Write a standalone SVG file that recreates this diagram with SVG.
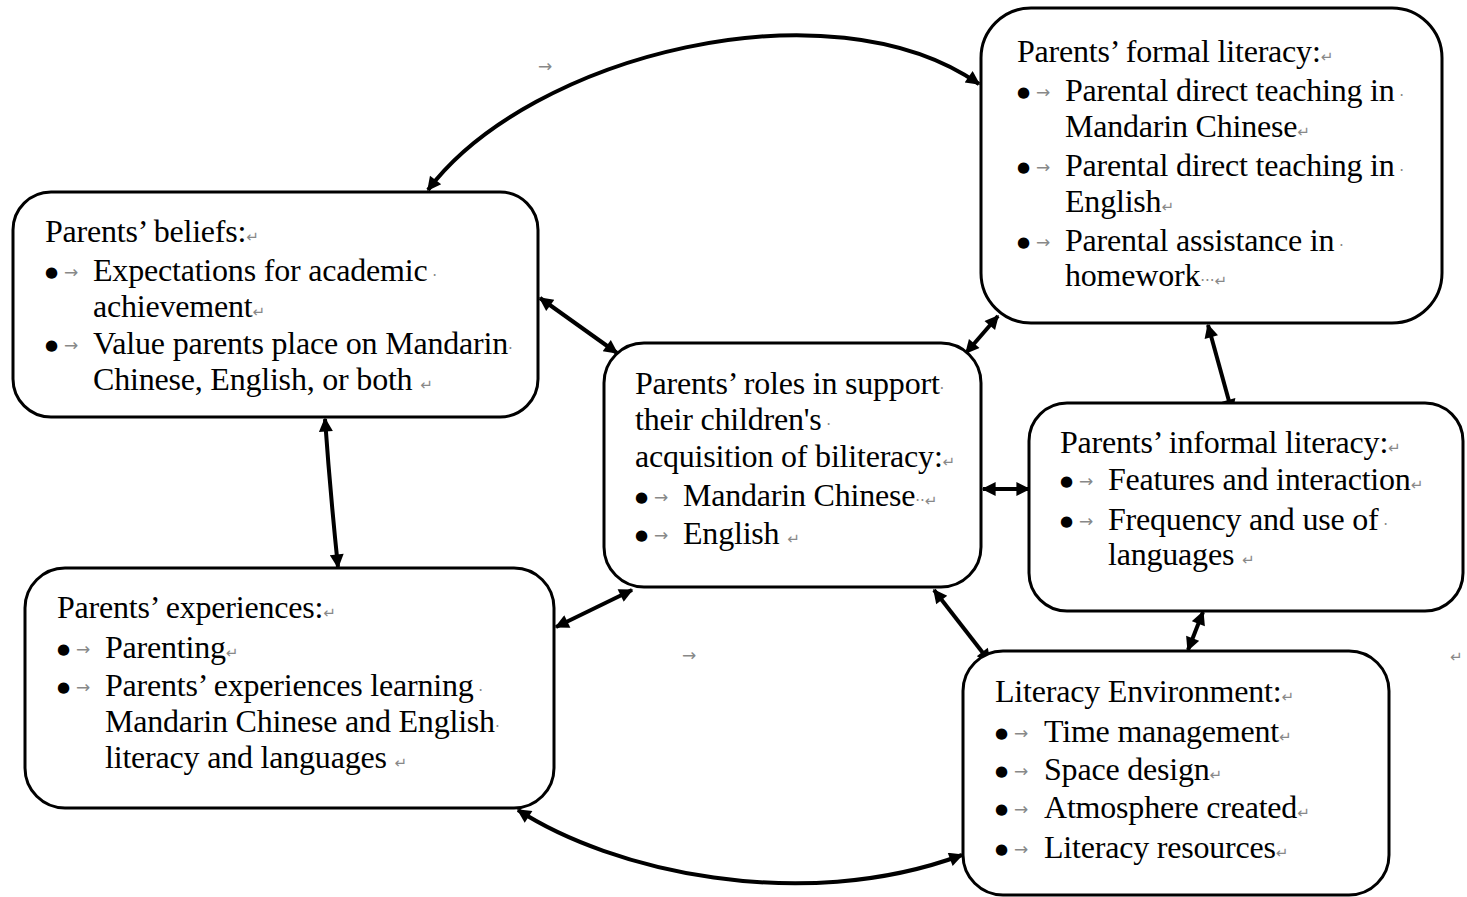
<svg xmlns="http://www.w3.org/2000/svg" width="1467" height="897" viewBox="0 0 1467 897">
<defs>
<style>
.box{fill:#fff;stroke:#000;stroke-width:3}
.t{font-family:"Liberation Serif","Times New Roman",serif;font-size:32px;fill:#000;letter-spacing:-0.2px}
.m{font-family:"DejaVu Sans",sans-serif;font-size:15px;fill:#888;letter-spacing:0}
.a{font-family:"DejaVu Sans",sans-serif;font-size:17px;fill:#888}
.b{font-family:"DejaVu Sans",sans-serif;font-size:15px;fill:#000}
.c{fill:none;stroke:#000;stroke-width:4;marker-start:url(#ah);marker-end:url(#ah)}
</style>
<marker id="ah" viewBox="0 0 10 10" refX="9" refY="5" markerWidth="16" markerHeight="14" markerUnits="userSpaceOnUse" orient="auto-start-reverse">
<path d="M0,0 L10,5 L0,10 z" fill="#000"/>
</marker>
</defs>
<rect width="1467" height="897" fill="#fff"/>

<g id="connectors">
<path class="c" d="M428 190 C530 55 830 -20 979 84"/>
<path class="c" d="M518 810 C610 870 800 915 962 855"/>
<path class="c" d="M540 298 L617 353"/>
<path class="c" d="M966 353 L998 316"/>
<path class="c" d="M1208 325 L1232 412"/>
<path class="c" d="M983 489 L1029 489"/>
<path class="c" d="M325 419 Q330 490 338 567"/>
<path class="c" d="M556 627 L632 590"/>
<path class="c" d="M934 590 L990 662"/>
<path class="c" d="M1203 612 L1188 650"/>
</g>

<g id="beliefs">
<rect class="box" x="13" y="192" width="525" height="225" rx="38"/>
<text class="t" x="45" y="242">Parents’ beliefs:<tspan class="m">↵</tspan></text>
<text class="b" x="45" y="277">●</text><text class="a" x="64" y="278">→</text>
<text class="t" x="93" y="281">Expectations for academic<tspan class="m"> ·</tspan></text>
<text class="t" x="93" y="317">achievement<tspan class="m">↵</tspan></text>
<text class="b" x="45" y="350">●</text><text class="a" x="64" y="351">→</text>
<text class="t" x="93" y="354">Value parents place on Mandarin<tspan class="m">·</tspan></text>
<text class="t" x="93" y="390">Chinese, English, or both <tspan class="m">↵</tspan></text>
</g>

<g id="formal">
<rect class="box" x="981" y="8" width="461" height="315" rx="50"/>
<text class="t" x="1017" y="62">Parents’ formal literacy:<tspan class="m">↵</tspan></text>
<text class="b" x="1017" y="97">●</text><text class="a" x="1036" y="98">→</text>
<text class="t" x="1065" y="101">Parental direct teaching in<tspan class="m"> ·</tspan></text>
<text class="t" x="1065" y="137">Mandarin Chinese<tspan class="m">↵</tspan></text>
<text class="b" x="1017" y="172">●</text><text class="a" x="1036" y="173">→</text>
<text class="t" x="1065" y="176">Parental direct teaching in<tspan class="m"> ·</tspan></text>
<text class="t" x="1065" y="212">English<tspan class="m">↵</tspan></text>
<text class="b" x="1017" y="247">●</text><text class="a" x="1036" y="248">→</text>
<text class="t" x="1065" y="251">Parental assistance in<tspan class="m"> ·</tspan></text>
<text class="t" x="1065" y="286">homework<tspan class="m">···↵</tspan></text>
</g>

<g id="center">
<rect class="box" x="604" y="343" width="377" height="244" rx="40"/>
<text class="t" x="635" y="394">Parents’ roles in support<tspan class="m">·</tspan></text>
<text class="t" x="635" y="430">their children's<tspan class="m"> ·</tspan></text>
<text class="t" x="635" y="467">acquisition of biliteracy:<tspan class="m">↵</tspan></text>
<text class="b" x="635" y="502">●</text><text class="a" x="654" y="503">→</text>
<text class="t" x="683" y="506">Mandarin Chinese<tspan class="m">··↵</tspan></text>
<text class="b" x="635" y="540">●</text><text class="a" x="654" y="541">→</text>
<text class="t" x="683" y="544">English <tspan class="m">↵</tspan></text>
</g>

<g id="informal">
<rect class="box" x="1029" y="403" width="434" height="208" rx="38"/>
<text class="t" x="1060" y="453">Parents’ informal literacy:<tspan class="m">↵</tspan></text>
<text class="b" x="1060" y="486">●</text><text class="a" x="1079" y="487">→</text>
<text class="t" x="1108" y="490">Features and interaction<tspan class="m">↵</tspan></text>
<text class="b" x="1060" y="526">●</text><text class="a" x="1079" y="527">→</text>
<text class="t" x="1108" y="530">Frequency and use of<tspan class="m"> ·</tspan></text>
<text class="t" x="1108" y="565">languages <tspan class="m">↵</tspan></text>
</g>

<g id="experiences">
<rect class="box" x="25" y="568" width="529" height="240" rx="40"/>
<text class="t" x="57" y="618">Parents’ experiences:<tspan class="m">↵</tspan></text>
<text class="b" x="57" y="654">●</text><text class="a" x="76" y="655">→</text>
<text class="t" x="105" y="658">Parenting<tspan class="m">↵</tspan></text>
<text class="b" x="57" y="692">●</text><text class="a" x="76" y="693">→</text>
<text class="t" x="105" y="696">Parents’ experiences learning<tspan class="m"> ·</tspan></text>
<text class="t" x="105" y="732">Mandarin Chinese and English<tspan class="m">·</tspan></text>
<text class="t" x="105" y="768">literacy and languages <tspan class="m">↵</tspan></text>
</g>

<g id="environment">
<rect class="box" x="963" y="651" width="426" height="244" rx="40"/>
<text class="t" x="995" y="702">Literacy Environment:<tspan class="m">↵</tspan></text>
<text class="b" x="995" y="738">●</text><text class="a" x="1014" y="739">→</text>
<text class="t" x="1044" y="742">Time management<tspan class="m">↵</tspan></text>
<text class="b" x="995" y="776">●</text><text class="a" x="1014" y="777">→</text>
<text class="t" x="1044" y="780">Space design<tspan class="m">↵</tspan></text>
<text class="b" x="995" y="814">●</text><text class="a" x="1014" y="815">→</text>
<text class="t" x="1044" y="818">Atmosphere created<tspan class="m">↵</tspan></text>
<text class="b" x="995" y="854">●</text><text class="a" x="1014" y="855">→</text>
<text class="t" x="1044" y="858">Literacy resources<tspan class="m">↵</tspan></text>
</g>

<g id="stray-marks">
<text class="a" x="538" y="72">→</text>
<text class="a" x="682" y="661">→</text>
<text class="m" x="1450" y="662">↵</text>
</g>
</svg>
